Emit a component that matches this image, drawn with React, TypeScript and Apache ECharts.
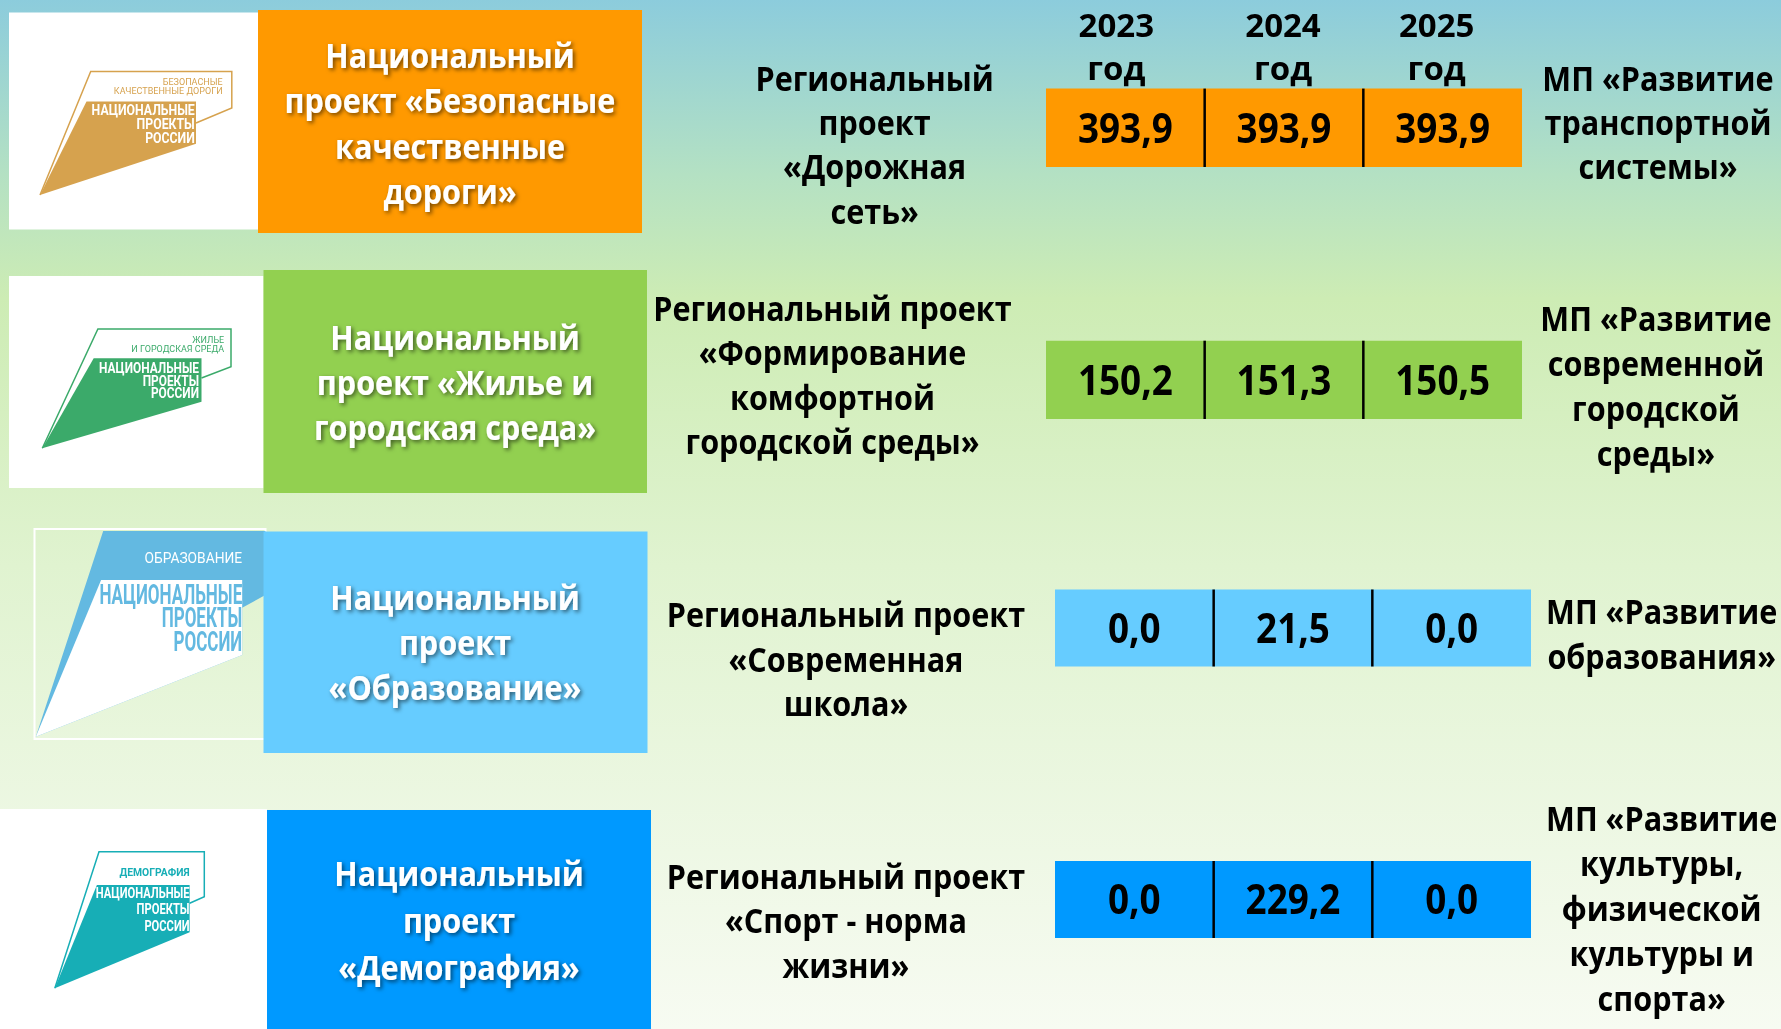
import React, { useEffect, useRef } from 'react';
import * as echarts from 'echarts';

// ---------- DATA ----------
const years = ['2023', '2024', '2025'];
const yearSuffix = 'год';

const nationalProjects = [
  'Национальный\nпроект «Безопасные\nкачественные\nдороги»',
  'Национальный\nпроект «Жилье и\nгородская среда»',
  'Национальный\nпроект\n«Образование»',
  'Национальный\nпроект\n«Демография»',
];

const regionalProjects = [
  'Региональный\nпроект\n«Дорожная\nсеть»',
  'Региональный проект\n«Формирование\nкомфортной\nгородской среды»',
  'Региональный проект\n«Современная\nшкола»',
  'Региональный проект\n«Спорт - норма\nжизни»',
];

const municipalPrograms = [
  'МП «Развитие\nтранспортной\nсистемы»',
  'МП «Развитие\nсовременной\nгородской\nсреды»',
  'МП «Развитие\nобразования»',
  'МП «Развитие\nкультуры,\nфизической\nкультуры и\nспорта»',
];

const roadValues = [393.9, 393.9, 393.9];
const urbanValues = [150.2, 151.3, 150.5];
const schoolValues = [0.0, 21.5, 0.0];
const sportValues = [0.0, 229.2, 0.0];
const rowValues = [roadValues, urbanValues, schoolValues, sportValues];

const logoCaptions = [
  'БЕЗОПАСНЫЕ\nКАЧЕСТВЕННЫЕ ДОРОГИ',
  'ЖИЛЬЕ\nИ ГОРОДСКАЯ СРЕДА',
  'ОБРАЗОВАНИЕ',
  'ДЕМОГРАФИЯ',
];
const logoTitle = 'НАЦИОНАЛЬНЫЕ\nПРОЕКТЫ\nРОССИИ';

// ---------- STYLE / LAYOUT ----------
const W = 1781;
const H = 1029;
const FONT = '"Open Sans", "Noto Sans", sans-serif';
const LOGO_FONT = 'Roboto, "Open Sans", sans-serif';
const SX = 0.9;
const TEXT_DY = -2.5;
const rowColors = ['#FF9900', '#92D050', '#66CCFF', '#0099FF'];
const yearLabelPadRight = [18, 2, 12];

const boxRects = [
  [258, 10, 384, 223],
  [263.5, 270, 383.5, 223],
  [263.5, 531.5, 384, 221.5],
  [267, 810, 384, 219],
];
const boxText = [
  { x: 450, y0: 57, dy: 45.3 },
  { x: 455, y0: 338.5, dy: 45.2 },
  { x: 455, y0: 598.6, dy: 45 },
  { x: 459, y0: 874.6, dy: 47 },
];
const midText = [
  { x: 874.6, y0: 79.5, dy: 44.3 },
  { x: 832.5, y0: 310, dy: 44.3 },
  { x: 846, y0: 615.6, dy: 44.8 },
  { x: 846, y0: 878, dy: 44.3 },
];
const rightText = [
  { x: 1658, y0: 79.5, dy: 44.3 },
  { x: 1656, y0: 320, dy: 44.8 },
  { x: 1661.7, y0: 613.3, dy: 44.3 },
  { x: 1661.7, y0: 820, dy: 44.9 },
];
const tableGrids = [
  { left: 1046, top: 88.6, width: 476, height: 78.4 },
  { left: 1046, top: 340.7, width: 476, height: 78.3 },
  { left: 1055, top: 589.5, width: 476, height: 77 },
  { left: 1055, top: 861, width: 476, height: 77 },
];

type TxtOpts = {
  size: number;
  fill?: string;
  sx?: number;
  align?: string;
  weight?: string;
  family?: string;
  shadow?: boolean;
  z?: number;
};

const txt = (text: string, x: number, y: number, o: TxtOpts) => ({
  type: 'text',
  x,
  y,
  scaleX: o.sx ?? 1,
  silent: true,
  z: o.z ?? 10,
  style: {
    text,
    x: 0,
    y: 0,
    fill: o.fill ?? '#000',
    fontSize: o.size,
    fontWeight: o.weight ?? 'bold',
    fontFamily: o.family ?? FONT,
    align: o.align ?? 'center',
    textAlign: o.align ?? 'center',
    verticalAlign: 'middle',
    textVerticalAlign: 'middle',
    ...(o.shadow
      ? {
          textShadowColor: 'rgba(0,0,0,0.55)',
          textShadowBlur: 4,
          textShadowOffsetX: 2,
          textShadowOffsetY: 2,
        }
      : {}),
  },
});

const linesAt = (text: string, pos: { x: number; y0: number; dy: number }, o: TxtOpts) =>
  text.split('\n').map((line, k) => txt(line, pos.x, pos.y0 + TEXT_DY + k * pos.dy, o));

const poly = (points: number[][], fill: string, z = 5) => ({
  type: 'polygon',
  silent: true,
  z,
  shape: { points },
  style: { fill },
});
const pline = (points: number[][], stroke: string, w = 1.5, z = 5) => ({
  type: 'polyline',
  silent: true,
  z,
  shape: { points },
  style: { stroke, lineWidth: w, fill: 'none' },
});
const rect = (x: number, y: number, w: number, h: number, style: any, z = 3) => ({
  type: 'rect',
  silent: true,
  z,
  shape: { x, y, width: w, height: h },
  style,
});

const fmt = (v: number) => v.toFixed(1).replace('.', ',');

function buildLogos(): any[] {
  const els: any[] = [];
  // Logo 1 - roads (gold)
  const gold = '#D6A24E';
  els.push(rect(9, 12.5, 249, 217, { fill: '#FFFFFF' }));
  els.push(pline([[40, 195], [90.7, 71.5], [231.8, 71.5], [231.8, 108], [196, 123]], gold, 1.5));
  els.push(poly([[40, 195], [86.5, 101.5], [196, 101.5], [196, 143.8]], gold));
  logoCaptions[0].split('\n').forEach((l, k) =>
    els.push(txt(l, 222.6, 81.5 + k * 9, { size: 9.5, fill: gold, align: 'right', weight: 'normal', family: LOGO_FONT, sx: 0.95 }))
  );
  logoTitle.split('\n').forEach((l, k) =>
    els.push(txt(l, 194.8, 110 + k * 13.7, { size: 15, fill: '#FFFFFF', align: 'right', family: LOGO_FONT, sx: 0.82 }))
  );

  // Logo 2 - housing (green)
  const green = '#3BAA6A';
  els.push(rect(9, 276, 254.5, 212, { fill: '#FFFFFF' }));
  els.push(pline([[42.3, 448.3], [97.9, 329], [231, 329], [231, 366.7], [201.5, 378]], green, 1.5));
  els.push(poly([[42.3, 448.3], [93.7, 358.3], [201.5, 358.3], [201.5, 401.7]], green));
  logoCaptions[1].split('\n').forEach((l, k) =>
    els.push(txt(l, 224.2, 339.3 + k * 9, { size: 9.5, fill: green, align: 'right', weight: 'normal', family: LOGO_FONT, sx: 0.95 }))
  );
  logoTitle.split('\n').forEach((l, k) =>
    els.push(txt(l, 199, 368.3 + k * 12.6, { size: 14, fill: '#FFFFFF', align: 'right', family: LOGO_FONT, sx: 0.85 }))
  );

  // Logo 3 - education (light blue)
  const lblue = '#63B9E1';
  els.push(rect(34.5, 529, 231, 210, { fill: 'none', stroke: '#FFFFFF', lineWidth: 2 }));
  els.push(poly([[35.8, 736.7], [103.2, 531], [265.4, 531], [265.4, 595], [242.2, 607.7], [242.2, 655]], lblue));
  els.push(poly([[35.8, 736.7], [101.1, 580], [242.2, 580], [242.2, 655]], '#FFFFFF', 6));
  els.push(txt(logoCaptions[2], 242.2, 558.3, { size: 15, fill: '#FFFFFF', align: 'right', weight: 'normal', family: LOGO_FONT, sx: 0.92 }));
  logoTitle.split('\n').forEach((l, k) =>
    els.push(txt(l, 242.2, 595 + k * 23.3, { size: 27, fill: lblue, align: 'right', family: LOGO_FONT, sx: 0.63 }))
  );

  // Logo 4 - demography (teal)
  const teal = '#17AEB6';
  els.push(rect(0, 809, 267, 220, { fill: '#FFFFFF' }));
  els.push(pline([[54.8, 988.3], [99, 851.7], [204.3, 851.7], [204.3, 896.7], [189.6, 903.3]], teal, 1.5));
  els.push(poly([[54.8, 988.3], [96.9, 885], [189.6, 885], [189.6, 932.3]], teal));
  els.push(txt(logoCaptions[3], 189.6, 872.3, { size: 11.5, fill: teal, align: 'right', family: LOGO_FONT, sx: 0.9 }));
  logoTitle.split('\n').forEach((l, k) =>
    els.push(txt(l, 189.6, 893.3 + k * 16.2, { size: 14, fill: '#FFFFFF', align: 'right', family: LOGO_FONT, sx: 0.8 }))
  );
  return els;
}

function buildOption(): any {
  const graphic: any[] = [];
  graphic.push(
    rect(0, 0, W, H, {
      fill: new echarts.graphic.LinearGradient(0, 0, 0, 1, [
        { offset: 0, color: '#8CCCDC' },
        { offset: 0.17, color: '#B4E1C3' },
        { offset: 0.29, color: '#CDECB4' },
        { offset: 0.55, color: '#E0F3D0' },
        { offset: 1, color: '#F7FBF2' },
      ]),
    }, 0)
  );
  graphic.push(...buildLogos());
  boxRects.forEach((b, i) => {
    graphic.push(rect(b[0], b[1], b[2], b[3], { fill: rowColors[i] }, 7));
    graphic.push(...linesAt(nationalProjects[i], boxText[i], { size: 34, fill: '#FFFFFF', sx: SX, shadow: true }));
    graphic.push(...linesAt(regionalProjects[i], midText[i], { size: 34, sx: SX }));
    graphic.push(...linesAt(municipalPrograms[i], rightText[i], { size: 34, sx: SX }));
  });

  const yearFont = { fontSize: 33, fontWeight: 'bold', fontFamily: FONT, color: '#000' };
  const rich: any = {};
  yearLabelPadRight.forEach((p, k) => {
    rich['y' + k] = { ...yearFont, lineHeight: 46, padding: [0, p, 0, 0] };
    rich['g' + k] = { ...yearFont, lineHeight: 40, padding: [0, p, 0, 0] };
  });

  const grid = tableGrids.map((g) => ({ ...g, containLabel: false, outerBoundsMode: 'none' }));
  const xAxis = tableGrids.map((_, i) => ({
    type: 'category',
    gridIndex: i,
    data: years,
    position: 'top',
    axisLine: { show: false },
    axisTick: { show: false },
    splitLine: { show: false },
    axisLabel: {
      show: i === 0,
      interval: 0,
      hideOverlap: false,
      formatter: (v: string, idx: number) => `{y${idx}|${v}}\n{g${idx}|${yearSuffix}}`,
      ...yearFont,
      rich,
      margin: 1.6,
    },
  }));
  const yAxis = tableGrids.map((_, i) => ({
    type: 'category',
    gridIndex: i,
    data: [''],
    show: false,
  }));

  const series = rowValues.map((vals, i) => ({
    type: 'custom',
    xAxisIndex: i,
    yAxisIndex: i,
    silent: true,
    z: 20,
    data: vals.map((v, j) => [j, 0, v]),
    renderItem: (params: any, api: any) => {
      const c = api.coord([api.value(0), api.value(1)]);
      const s = api.size([1, 1]);
      const x0 = c[0] - s[0] / 2;
      const y0 = c[1] - s[1] / 2;
      const children: any[] = [
        { type: 'rect', shape: { x: x0, y: y0, width: s[0], height: s[1] }, style: { fill: rowColors[i] } },
        {
          type: 'text',
          x: c[0],
          y: c[1] - 1.5,
          scaleX: SX,
          style: {
            text: fmt(api.value(2)),
            x: 0,
            y: 0,
            fill: '#000',
            fontSize: 41,
            fontWeight: 'bold',
            fontFamily: FONT,
            align: 'center',
            textAlign: 'center',
            verticalAlign: 'middle',
            textVerticalAlign: 'middle',
          },
        },
      ];
      if (params.dataIndex > 0) {
        children.push({
          type: 'line',
          shape: { x1: x0, y1: y0, x2: x0, y2: y0 + s[1] },
          style: { stroke: '#000', lineWidth: 2.5 },
        });
      }
      return { type: 'group', children };
    },
  }));

  return { animation: false, graphic, grid, xAxis, yAxis, series };
}

export default function App() {
  const ref = useRef<HTMLDivElement>(null);
  useEffect(() => {
    if (!ref.current) return;
    const chart = echarts.init(ref.current, undefined, { renderer: 'svg' });
    chart.setOption(buildOption());
    return () => chart.dispose();
  }, []);
  return (
    <div
      ref={ref}
      style={{ position: 'fixed', left: 0, top: 0, width: W, height: H }}
    />
  );
}
